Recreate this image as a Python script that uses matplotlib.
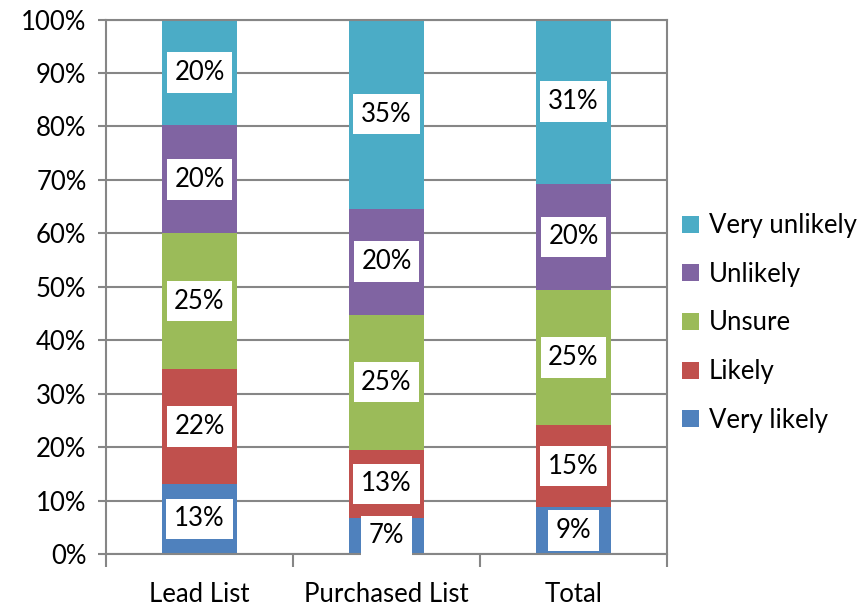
"""Stacked 100% bar chart: likelihood by list source."""
import numpy as np
from matplotlib import pyplot as plt
from matplotlib.ticker import FuncFormatter

categories = ['Lead List', 'Purchased List', 'Total']
series = ['Very likely', 'Likely', 'Unsure', 'Unlikely', 'Very unlikely']

very_likely = [13.1, 6.8, 8.8]
likely = [21.5, 12.7, 15.3]
unsure = [25.4, 25.3, 25.3]
unlikely = [20.2, 19.8, 19.9]
very_unlikely = [19.8, 35.4, 30.7]

colors = ['#4F81BD', '#C0504D', '#9BBB59', '#8064A2', '#4BACC6']

plt.rcParams['font.family'] = ['Lato', 'DejaVu Sans']
FS = 18.5
GREY = '#868686'

fig = plt.figure(figsize=(8.62, 6.06), dpi=100)
ax = fig.add_axes([106 / 862, 1 - 554 / 606, (667 - 106) / 862, (554 - 19.5) / 606])

x = np.arange(len(categories))
bottom = np.zeros(len(categories))
bars = []
for name, vals, col in zip(series,
                           [very_likely, likely, unsure, unlikely, very_unlikely],
                           colors):
    b = ax.bar(x, vals, width=0.4, bottom=bottom, color=col, label=name,
               edgecolor='none', zorder=2)
    ax.bar_label(b, fmt='%.0f%%', label_type='center', fontsize=FS,
                 color='black', zorder=3,
                 bbox=dict(boxstyle='square,pad=0.3', fc='white', ec='none'))
    bars.append(b)
    bottom += np.array(vals)

ax.set_xlim(-0.5, len(categories) - 0.5)
ax.set_ylim(0, 100)
ax.set_yticks(np.arange(0, 101, 10))
ax.yaxis.set_major_formatter(FuncFormatter(lambda v, p: f'{v:.0f}%'))
ax.yaxis.grid(True, color=GREY, linewidth=1.5, zorder=0)
ax.set_axisbelow(True)

# category boundaries carry the tick marks, labels sit at the centres
ax.set_xticks(np.arange(-0.5, len(categories), 1.0))
ax.set_xticklabels([])
ax.set_xticks(x, minor=True)
ax.set_xticklabels(categories, minor=True)
ax.tick_params(axis='x', which='major', length=9, width=1.5, color=GREY,
               direction='out')
ax.tick_params(axis='x', which='minor', length=0, pad=20, labelsize=FS)
ax.tick_params(axis='y', length=6, width=1.5, color=GREY, direction='out',
               labelsize=FS, pad=8)

for s in ax.spines.values():
    s.set_color(GREY)
    s.set_linewidth(1.5)

handles = bars[::-1]
fig.legend(handles, series[::-1], loc='center left',
           bbox_to_anchor=(682 / 862, 1 - 323 / 606), frameon=False,
           fontsize=FS, handlelength=0.65, handleheight=0.65,
           handletextpad=0.4, labelspacing=0.92, borderpad=0,
           borderaxespad=0)

fig.savefig('out.png', dpi=100)
